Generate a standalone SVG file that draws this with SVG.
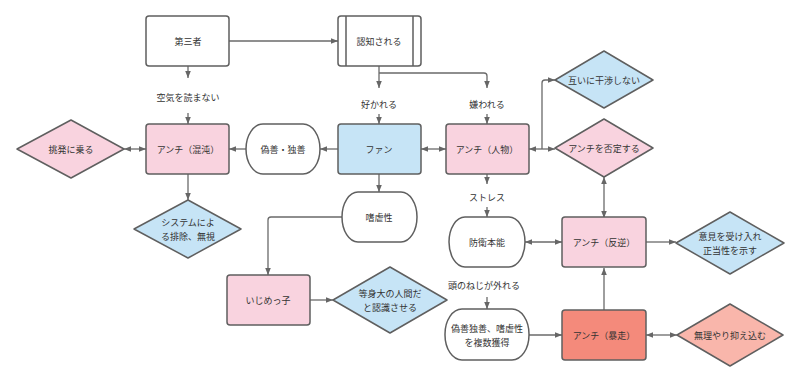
<svg xmlns="http://www.w3.org/2000/svg" width="800" height="384" viewBox="0 0 800 384">
<style>
text{font-family:"Noto Sans CJK JP","Noto Sans",sans-serif;font-size:9px;fill:#333;text-anchor:middle;dominant-baseline:central}
.n{stroke:#5f5f5f;stroke-width:1.5;stroke-linejoin:round}
.w{fill:#fff}.p{fill:#f9d3df}.b{fill:#c6e4f6}.r{fill:#f48a7b}.s{fill:#f9b6ab}
.c path{fill:none;stroke:#6a6a6a;stroke-width:1.3}
</style>
<defs>
<marker id="a" viewBox="0 0 10 10" refX="10" refY="5" markerWidth="7" markerHeight="7" orient="auto-start-reverse" markerUnits="userSpaceOnUse"><path d="M0,1 L10,5 L0,9 z" fill="#666"/></marker>
</defs>
<rect width="800" height="384" fill="#fff"/>
<g class="c">
<path d="M188 66V78" marker-end="url(#a)"/>
<path d="M188 113V124" marker-end="url(#a)"/>
<path d="M229 41H338" marker-end="url(#a)"/>
<path d="M379 66V88" marker-end="url(#a)"/>
<path d="M379 73H484Q487 73 487 76V88" marker-end="url(#a)"/>
<path d="M379 114V124" marker-end="url(#a)"/>
<path d="M487 114V124" marker-end="url(#a)"/>
<path d="M421 149H446" marker-start="url(#a)" marker-end="url(#a)"/>
<path d="M338 149H320" marker-end="url(#a)"/>
<path d="M246 149H229" marker-end="url(#a)"/>
<path d="M146 149H124" marker-start="url(#a)" marker-end="url(#a)"/>
<path d="M188 174V200" marker-end="url(#a)"/>
<path d="M379 174V192" marker-end="url(#a)"/>
<path d="M342 217H271Q268 217 268 220V275" marker-end="url(#a)"/>
<path d="M310 300H333" marker-end="url(#a)"/>
<path d="M487 174V184" marker-end="url(#a)"/>
<path d="M487 207V217" marker-end="url(#a)"/>
<path d="M525 242H562" marker-start="url(#a)" marker-end="url(#a)"/>
<path d="M487 297V309" marker-end="url(#a)"/>
<path d="M529 335H562" marker-end="url(#a)"/>
<path d="M604 310V268" marker-end="url(#a)"/>
<path d="M646 242H676" marker-end="url(#a)"/>
<path d="M646 335H677" marker-start="url(#a)" marker-end="url(#a)"/>
<path d="M604 218V177" marker-start="url(#a)" marker-end="url(#a)"/>
<path d="M529 149H555" marker-start="url(#a)" marker-end="url(#a)"/>
<path d="M542 149V83Q542 80 545 80H555" marker-end="url(#a)"/>
</g>
<g id="labels">
<text x="188" y="97">空気を読まない</text>
<text x="379" y="104">好かれる</text>
<text x="487" y="104">嫌われる</text>
<text x="487" y="197">ストレス</text>
<text x="484" y="285">頭のねじが外れる</text>
</g>
<g id="daisansha"><rect class="n w" x="146" y="16" width="83" height="50" rx="3"/><text x="188" y="41">第三者</text></g>
<g id="ninchi"><rect class="n w" x="338" y="16" width="83" height="50" rx="3"/><path class="n" d="M346 16V66M413 16V66" fill="none"/><text x="379" y="41">認知される</text></g>
<g id="konton"><rect class="n p" x="146" y="124" width="83" height="50" rx="3"/><text x="188" y="149">アンチ（混沌）</text></g>
<g id="chohatsu"><polygon class="n p" points="17,149 71,120 124,149 71,178"/><text x="71" y="149">挑発に乗る</text></g>
<g id="gizen"><rect class="n w" x="246" y="124" width="74" height="50" rx="17" ry="25"/><text x="283" y="149">偽善・独善</text></g>
<g id="fan"><rect class="n b" x="338" y="124" width="83" height="50" rx="3"/><text x="379" y="149">ファン</text></g>
<g id="jinbutsu"><rect class="n p" x="446" y="124" width="83" height="50" rx="3"/><text x="487" y="149">アンチ（人物）</text></g>
<g id="kansho"><polygon class="n b" points="555,80 604,51 653,80 604,108"/><text x="604" y="80">互いに干渉しない</text></g>
<g id="hitei"><polygon class="n p" points="555,148 604,119 653,148 604,177"/><text x="604" y="148">アンチを否定する</text></g>
<g id="system"><polygon class="n b" points="134,229 188,200 241,229 188,258"/><text x="188" y="222">システムによ</text><text x="188" y="236">る排除、無視</text></g>
<g id="shigyaku"><rect class="n w" x="342" y="192" width="75" height="50" rx="16" ry="25"/><text x="379" y="217">嗜虐性</text></g>
<g id="ijimekko"><rect class="n p" x="227" y="275" width="83" height="50" rx="3"/><text x="268" y="300">いじめっ子</text></g>
<g id="toshindai"><polygon class="n b" points="333,300 390,267 447,300 390,333"/><text x="390" y="293">等身大の人間だ</text><text x="390" y="307">と認識させる</text></g>
<g id="boei"><rect class="n w" x="449" y="217" width="76" height="50" rx="16" ry="25"/><text x="487" y="242">防衛本能</text></g>
<g id="hangyaku"><rect class="n p" x="562" y="217" width="84" height="50" rx="3"/><text x="604" y="242">アンチ（反逆）</text></g>
<g id="iken"><polygon class="n b" points="676,243 730,212 784,243 730,274"/><text x="730" y="236">意見を受け入れ</text><text x="730" y="250">正当性を示す</text></g>
<g id="fukusu"><rect class="n w" x="445" y="309" width="84" height="51" rx="17" ry="25"/><text x="487" y="328">偽善独善、嗜虐性</text><text x="487" y="342">を複数獲得</text></g>
<g id="boso"><rect class="n r" x="562" y="310" width="84" height="50" rx="3"/><text x="604" y="335">アンチ（暴走）</text></g>
<g id="muri"><polygon class="n s" points="677,335 730,304 783,335 730,366"/><text x="730" y="335">無理やり抑え込む</text></g>
</svg>
